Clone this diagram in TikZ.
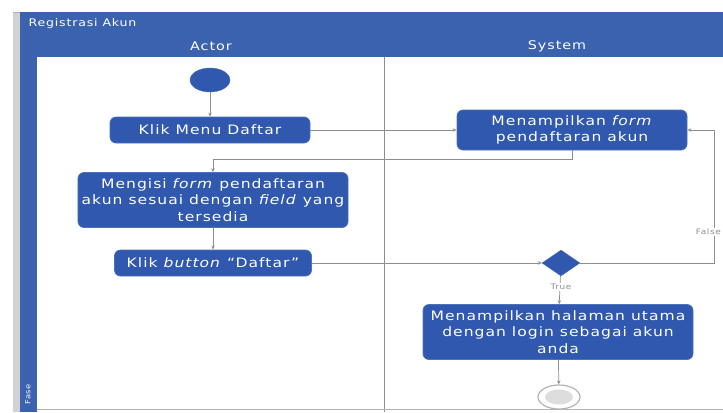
\documentclass[tikz,border=0pt]{standalone}
\usepackage{fontspec}
\setmainfont{DejaVu Sans}[FakeStretch=1.2, LetterSpace=8]
\usetikzlibrary{shapes.geometric,arrows.meta}
\definecolor{laneblue}{HTML}{3B62AE}
\definecolor{actblue}{HTML}{2F58AE}
\definecolor{actedge}{HTML}{4C72BC}
\definecolor{wire}{HTML}{8E8E8E}
\definecolor{frame}{HTML}{B4B4B4}
\tikzset{
  activity/.style={rectangle, rounded corners=6bp, fill=actblue, draw=actedge,
    line width=0.8bp, text=white, align=center, inner sep=2bp,
    font=\fontsize{13}{16.5}\selectfont},
  decision/.style={diamond, fill=actblue, draw=actedge, minimum width=38bp,
    minimum height=26bp, inner sep=0pt, aspect=1.5},
  startnode/.style={ellipse, fill=actblue, draw=actedge, minimum width=40bp,
    minimum height=24bp, inner sep=0pt},
  conn/.style={draw=wire, line width=0.7bp, -{Stealth[length=4bp,width=3.5bp]}},
  guard/.style={font=\fontsize{7.5}{8}\selectfont, text=wire, fill=white, inner sep=1bp},
  header/.style={text=white, font=\fontsize{12}{14}\selectfont},
}
\begin{document}
\begin{tikzpicture}[x=1bp,y=-1bp]
\useasboundingbox (0,0) rectangle (723,412);
\fill[white] (0,0) rectangle (723,412);
% outer frame of the swimlane pool
\fill[frame!60] (13,12) rectangle (20,412);
\draw[frame, line width=0.6bp] (13,12) -- (723,12);
\fill[laneblue] (20,12) rectangle (723,57);
\fill[laneblue] (20,57) rectangle (37,412);
\node[header, anchor=west, font=\fontsize{10.5}{12}\selectfont] (title) at (25,24) {Registrasi Akun};
\node[header] (actor) at (211,46) {Actor};
\node[header] (system) at (557,46) {System};
\node[header, rotate=90, anchor=west, font=\fontsize{7}{8}\selectfont] (phase) at (28,408) {Fase};
% lane separator and bottom edge
\draw[wire, line width=0.8bp] (384,57) -- (384,412);
\draw[frame, line width=0.6bp] (37,409) -- (723,409);

% activity nodes
\node[startnode] (start) at (210,80) {};
\node[activity, minimum width=200bp, minimum height=26bp] (menu) at (210,130) {Klik Menu Daftar};
\node[activity, minimum width=230bp, minimum height=40bp] (form) at (572,130)
  {Menampilkan \textit{form}\\pendaftaran akun};
\node[activity, minimum width=270bp, minimum height=55bp] (isi) at (213,200)
  {Mengisi \textit{form} pendaftaran\\akun sesuai dengan \textit{field} yang\\tersedia};
\node[activity, minimum width=197bp, minimum height=26bp] (btn) at (213,263)
  {Klik \textit{button} ``Daftar''};
\node[decision] (dec) at (561,263) {};
\node[activity, minimum width=270bp, minimum height=55bp] (home) at (558,332)
  {Menampilkan halaman utama\\dengan login sebagai akun\\anda};
\node[ellipse, draw=frame, line width=1.2bp, fill=white, minimum width=42bp,
  minimum height=24bp, inner sep=0pt] (end) at (559,397) {};
\node[ellipse, fill=frame!45, minimum width=28bp, minimum height=15bp,
  inner sep=0pt] (endcore) at (end.center) {};

% flows
\coordinate (back) at (714,263);
\draw[conn] (start) -- (menu);
\draw[conn] (menu) -- (form);
\draw[conn] (form.south) -- ++(0,9) -| (isi.north);
\draw[conn] (isi) -- (btn);
\draw[conn] (btn) -- (dec);
\draw[conn] (dec.east) -- (back) |- (form.east);
\node[guard, anchor=east] (falselbl) at (722,232) {False};
\draw[conn] (dec) -- (home);
\node[guard] (truelbl) at (561,287) {True};
\draw[conn] (home) -- (end);
\end{tikzpicture}
\end{document}
